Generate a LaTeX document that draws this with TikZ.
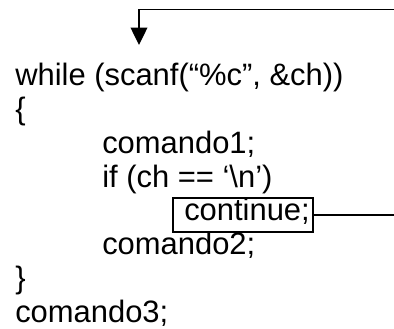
\documentclass[tikz,border=0pt]{standalone}
\usepackage{fontspec}
\setmainfont{Liberation Sans}
\usetikzlibrary{arrows.meta}
\tikzset{
  code/.style={anchor=base west, inner sep=0pt, font=\fontsize{23.2}{27}\selectfont},
  conn/.style={line width=1pt},
  boxed/.style={draw, line width=1pt, minimum width=105pt, minimum height=25.5pt, inner sep=0pt}
}
\begin{document}
\begin{tikzpicture}[x=0.75pt,y=-0.75pt]
\useasboundingbox (0,0) rectangle (394,329);
\node[code] (l1) at (15,85) {while (scanf(“\%c”, \&ch))};
\node[code] (l2) at (15,119) {\{};
\node[code] (l3) at (102,153) {comando1;};
\node[code] (l4) at (102,187) {if (ch == ‘\textbackslash n’)};
\node[boxed] (cbox) at (243,215) {};
\node[code] (l5) at (184,220) {continue;};
\node[code] (l6) at (102,254) {comando2;};
\node[code] (l7) at (15,288) {\}};
\node[code] (l8) at (15,322) {comando3;};
\coordinate (tr) at (394,9.5);
\coordinate (tl) at (139,9.5);
\coordinate (tip) at (139,45);
\coordinate (rr) at (394,215);
\draw[conn, -{Triangle[width=12.5pt,length=13pt]}] (tr) -- (tl) -- (tip);
\draw[conn] (cbox.east) -- (rr);
\end{tikzpicture}
\end{document}
